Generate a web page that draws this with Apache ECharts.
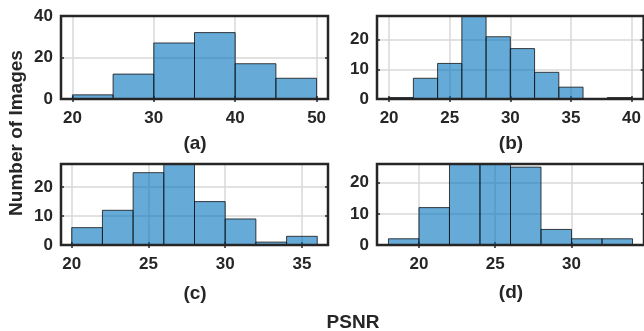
<!DOCTYPE html>
<html><head><meta charset="utf-8">
<script src="https://cdn.jsdelivr.net/npm/echarts@6/dist/echarts.min.js"></script>
<style>html,body{margin:0;padding:0;background:#fff}#c{width:644px;height:331px}</style>
</head><body><div id="c"></div>
<script>
// Panel (a)
const edgesA = [20, 25, 30, 35, 40, 45, 50];
const countsA = [2, 12, 27, 32, 17, 10];
const xTicksA = [20, 30, 40, 50];
const yTicksA = [0, 20, 40];
// Panel (b)
const edgesB = [20, 22, 24, 26, 28, 30, 32, 34, 36, 38, 40];
const countsB = [0.5, 7, 12, 28, 21, 17, 9, 4, 0, 0.5];
const xTicksB = [20, 25, 30, 35, 40];
const yTicksB = [0, 10, 20];
// Panel (c)
const edgesC = [20, 22, 24, 26, 28, 30, 32, 34, 36];
const countsC = [6, 12, 25, 28, 15, 9, 1, 3];
const xTicksC = [20, 25, 30, 35];
const yTicksC = [0, 10, 20];
// Panel (d)
const edgesD = [18, 20, 22, 24, 26, 28, 30, 32, 34];
const countsD = [2, 12, 26, 26, 25, 5, 2, 2];
const xTicksD = [20, 25, 30];
const yTicksD = [0, 10, 20];

const panelLabels = ['(a)', '(b)', '(c)', '(d)'];
const yAxisTitle = 'Number of Images';
const xAxisTitle = 'PSNR';

const FONT = '"Liberation Sans", Arial, Helvetica, sans-serif';
const TXT = '#262626';

const panels = [
  {edges: edgesA, counts: countsA, xT: xTicksA, yT: yTicksA, xr: [18.6, 51.4], ym: 40,
   grid: {left: 61, top: 16, width: 267, height: 83}, lab: [195, 144]},
  {edges: edgesB, counts: countsB, xT: xTicksB, yT: yTicksB, xr: [19, 41], ym: 28,
   grid: {left: 377, top: 16, width: 267, height: 83}, lab: [511, 144]},
  {edges: edgesC, counts: countsC, xT: xTicksC, yT: yTicksC, xr: [19.3, 36.7], ym: 28,
   grid: {left: 61, top: 164, width: 267, height: 81}, lab: [195, 294]},
  {edges: edgesD, counts: countsD, xT: xTicksD, yT: yTicksD, xr: [17.25, 34.75], ym: 26,
   grid: {left: 377, top: 164, width: 267, height: 81}, lab: [511, 293]}
];

const grids = [], xAxes = [], yAxes = [], series = [], graphics = [];
panels.forEach((p, i) => {
  grids.push(Object.assign({show: true, borderColor: TXT, borderWidth: 2.5, backgroundColor: 'transparent', z: 3, containLabel: false}, p.grid));
  const lbl = {show: true, fontFamily: FONT, fontWeight: 'bold', fontSize: 17, color: TXT};
  xAxes.push({type: 'value', gridIndex: i, position: 'bottom', min: p.xr[0], max: p.xr[1],
    axisLine: {show: false},
    axisTick: {show: true, inside: true, length: 3, customValues: p.xT, lineStyle: {color: TXT, width: 1.5}},
    axisLabel: Object.assign({customValues: p.xT, margin: 11}, lbl),
    splitLine: {show: true, lineStyle: {color: '#d8d8d8', width: 1.5}}});
  xAxes.push({type: 'value', gridIndex: i, position: 'top', min: p.xr[0], max: p.xr[1], z: 4,
    axisLine: {show: false},
    axisTick: {show: true, inside: true, length: 3, customValues: p.xT, lineStyle: {color: TXT, width: 1.5}},
    axisLabel: {show: false}, splitLine: {show: false}});
  yAxes.push({type: 'value', gridIndex: i, position: 'left', min: 0, max: p.ym,
    axisLine: {show: false},
    axisTick: {show: true, inside: true, length: 3, customValues: p.yT, lineStyle: {color: TXT, width: 1.5}},
    axisLabel: Object.assign({customValues: p.yT, margin: 8}, lbl),
    splitLine: {show: true, lineStyle: {color: '#d8d8d8', width: 1.5}}});
  yAxes.push({type: 'value', gridIndex: i, position: 'right', min: 0, max: p.ym, z: 4,
    axisLine: {show: false},
    axisTick: {show: true, inside: true, length: 3, customValues: p.yT, lineStyle: {color: TXT, width: 1.5}},
    axisLabel: {show: false}, splitLine: {show: false}});
  const data = p.counts.map((c, k) => [p.edges[k], p.edges[k + 1], c]);
  series.push({type: 'custom', xAxisIndex: 2 * i, yAxisIndex: 2 * i, data: data,
    encode: {x: [0, 1], y: 2}, clip: true, z: 2,
    renderItem: function (params, api) {
      const a = api.coord([api.value(0), 0]);
      const b = api.coord([api.value(1), api.value(2)]);
      return {type: 'rect', shape: {x: a[0], y: b[1], width: b[0] - a[0], height: a[1] - b[1]},
        style: {fill: 'rgba(0,114,189,0.6)', stroke: '#111', lineWidth: 0.8}};
    }});
  graphics.push({type: 'text', x: p.lab[0], y: p.lab[1],
    style: {text: panelLabels[i], font: 'bold 19px ' + FONT, fill: TXT, align: 'center', verticalAlign: 'middle'}});
});
graphics.push({type: 'text', x: 17, y: 133, rotation: Math.PI / 2,
  style: {text: yAxisTitle, font: 'bold 19px ' + FONT, fill: TXT, align: 'center', verticalAlign: 'middle'}});
graphics.push({type: 'text', x: 353, y: 323,
  style: {text: xAxisTitle, font: 'bold 19px ' + FONT, fill: TXT, align: 'center', verticalAlign: 'middle'}});

const chart = echarts.init(document.getElementById('c'), null, {renderer: 'canvas'});
chart.setOption({animation: false, backgroundColor: '#fff', grid: grids, xAxis: xAxes, yAxis: yAxes, series: series, graphic: graphics});
</script></body></html>
